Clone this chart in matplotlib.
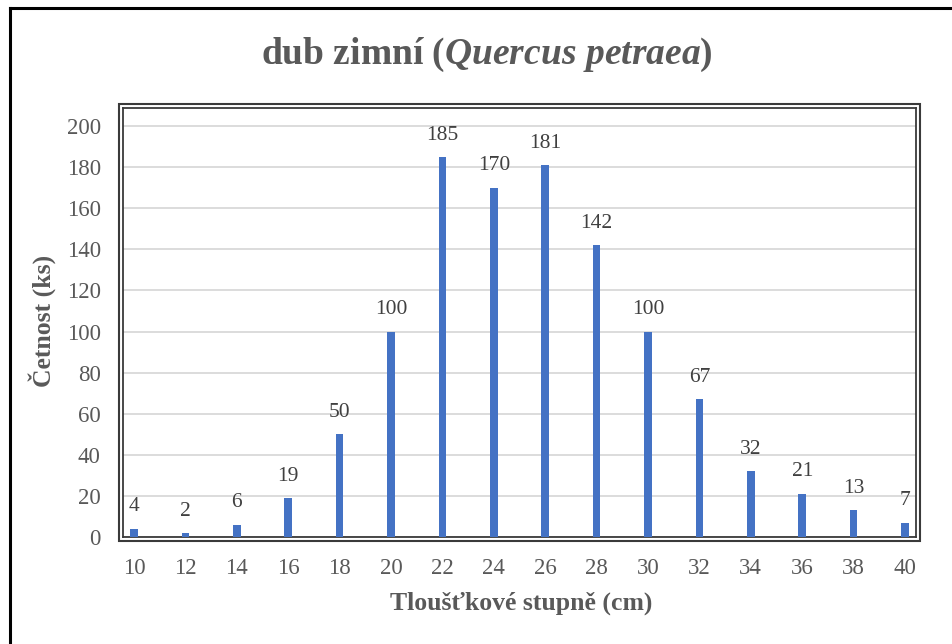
import matplotlib.pyplot as plt
from matplotlib.patches import Rectangle
from matplotlib.lines import Line2D

# data
stupne = ["10", "12", "14", "16", "18", "20", "22", "24", "26", "28",
          "30", "32", "34", "36", "38", "40"]
cetnost = [4, 2, 6, 19, 50, 100, 185, 170, 181, 142, 100, 67, 32, 21, 13, 7]
y_ticks = [0, 20, 40, 60, 80, 100, 120, 140, 160, 180, 200]

plt.rcParams["font.family"] = ["Liberation Serif", "DejaVu Serif"]
plt.rcParams["mathtext.fontset"] = "custom"
plt.rcParams["mathtext.rm"] = "Liberation Serif:bold"
plt.rcParams["mathtext.it"] = "Liberation Serif:italic:bold"

W, H = 952, 644
fig = plt.figure(figsize=(W / 100, H / 100), dpi=100)


def fx(px):
    return px / W


def fy(py):
    return 1 - py / H


ax = fig.add_axes([fx(123), fy(537), fx(916) - fx(123), fy(108) - fy(537)])

x = list(range(len(stupne)))
ax.bar(x, cetnost, width=0.15, color="#4472C4", zorder=3)

for xi, v in zip(x, cetnost):
    ax.annotate(str(v), (xi, v), xytext=(0, 12.5), textcoords="offset points",
                ha="center", va="baseline", fontsize=15.5, color="#404040")

ax.set_xlim(-0.214, 15.214)
ax.set_ylim(0, 208.8)
ax.set_yticks(y_ticks)
ax.set_xticks(x)
ax.set_xticklabels(stupne)
ax.tick_params(axis="both", length=0, labelsize=16.5, labelcolor="#595959")
ax.tick_params(axis="y", pad=16)
ax.tick_params(axis="x", pad=15)
ax.grid(axis="y", color="#d9d9d9", linewidth=1.3, zorder=0)

for s in ax.spines.values():
    s.set_color("#3a3a3a")
    s.set_linewidth(1.3)

# outer line of the double frame
fig.patches.append(Rectangle((fx(119), fy(541)), fx(920) - fx(119), fy(104) - fy(541),
                             transform=fig.transFigure, fill=False,
                             edgecolor="#3a3a3a", linewidth=1.5))

# chart border (cropped)
fig.add_artist(Line2D([fx(10), fx(10)], [0, fy(8)], color="black", linewidth=2.2))
fig.add_artist(Line2D([fx(10), 1], [fy(8), fy(8)], color="black", linewidth=2.2))

fig.text(fx(487), fy(55), r"dub zimní ($\mathit{Quercus\ petraea}$)",
         ha="center", va="center", fontsize=27, fontweight="bold", color="#595959")
fig.text(fx(42), fy(321), "Četnost (ks)", rotation=90, ha="center", va="center",
         fontsize=18.5, fontweight="bold", color="#595959")
fig.text(fx(521), fy(603), "Tloušťkové stupně (cm)", ha="center", va="center",
         fontsize=18.5, fontweight="bold", color="#595959")

fig.savefig("out.png", dpi=100)
